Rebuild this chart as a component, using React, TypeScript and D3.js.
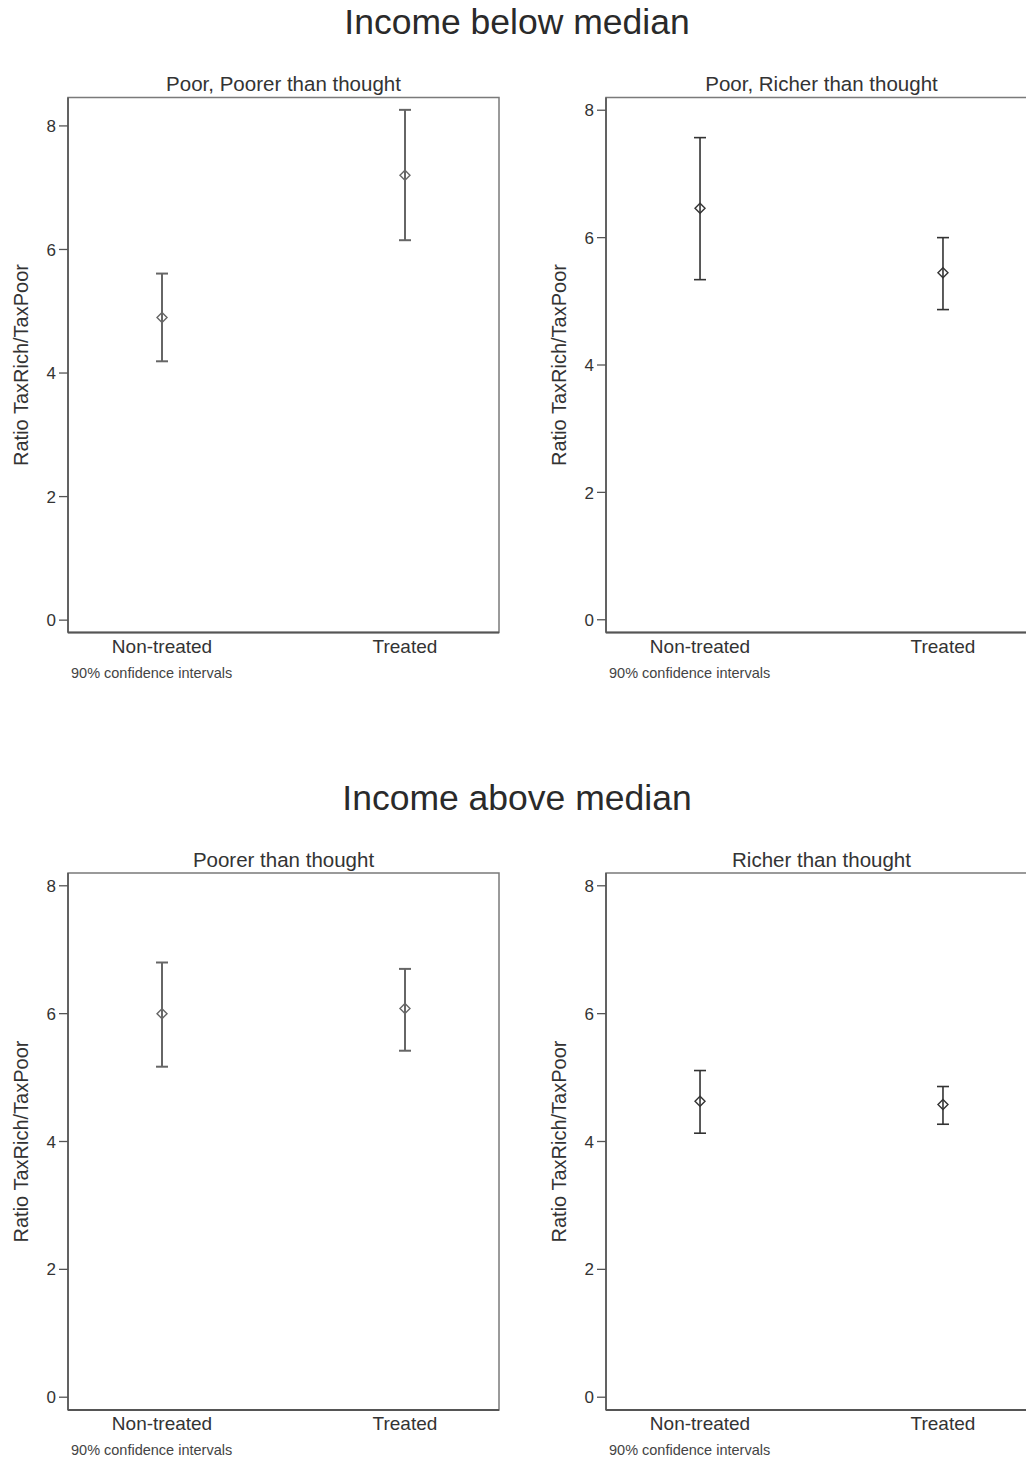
import React from "react";
import * as d3 from "d3";

// Group labels and panel titles
const groupTitles = ["Income below median", "Income above median"];
const panelTitles = [
  "Poor, Poorer than thought",
  "Poor, Richer than thought",
  "Poorer than thought",
  "Richer than thought",
];
const categories = ["Non-treated", "Treated"];
const yTicks = [0, 2, 4, 6, 8];

// Point estimates and 90% confidence bounds per panel (Non-treated, Treated)
const means = [
  [4.9, 7.2],
  [6.46, 5.45],
  [6.0, 6.08],
  [4.63, 4.58],
];
const lowers = [
  [4.19, 6.15],
  [5.34, 4.87],
  [5.17, 5.42],
  [4.13, 4.27],
];
const uppers = [
  [5.61, 8.26],
  [7.57, 6.0],
  [6.8, 6.7],
  [5.11, 4.86],
];

const W = 1026;
const H = 1458;
const FONT = "'Liberation Sans', Arial, Helvetica, sans-serif";

const panelW = 431;
const colX = [68, 606];
const rowY = [97.5, 873];
const rowH = [535, 537];

function Panel({ idx }: { idx: number }) {
  const col = idx % 2;
  const row = Math.floor(idx / 2);
  const x0 = colX[col];
  const y0 = rowY[row];
  const h = rowH[row];
  const x1 = x0 + panelW;
  const y1 = y0 + h;

  const top = Math.max(8, d3.max(uppers[idx]) as number) + 0.2;
  const y = d3.scaleLinear().domain([-0.2, top]).range([y1, y0]);
  const x = d3.scalePoint<string>().domain(categories).range([x0, x1]).padding(0.387);

  const barColor = col === 0 ? "#666" : "#333";
  const barW = col === 0 ? 2 : 1.6;
  const cap = 6;
  const dm = 5;

  return (
    <g>
      <text
        x={(x0 + x1) / 2}
        y={y0 - 6.5}
        textAnchor="middle"
        fontSize={20.5}
        fill="#333"
        fontFamily={FONT}
      >
        {panelTitles[idx]}
      </text>
      <rect x={x0} y={y0} width={panelW} height={h} fill="#fff" stroke="#7a7a7a" strokeWidth={1.5} />
      <line x1={x0} x2={x0} y1={y0} y2={y1} stroke="#555" strokeWidth={1.6} />
      <line x1={x0} x2={x1} y1={y1} y2={y1} stroke="#555" strokeWidth={1.8} />
      {yTicks.map((t) => (
        <g key={t}>
          <line x1={x0 - 9} x2={x0} y1={y(t)} y2={y(t)} stroke="#555" strokeWidth={1.3} />
          <text
            x={x0 - 12}
            y={y(t)}
            dy="0.36em"
            textAnchor="end"
            fontSize={17}
            fill="#333"
            fontFamily={FONT}
          >
            {t}
          </text>
        </g>
      ))}
      <text
        transform={`translate(${x0 - 40},${(y0 + y1) / 2}) rotate(-90)`}
        textAnchor="middle"
        fontSize={20}
        fill="#333"
        fontFamily={FONT}
      >
        Ratio TaxRich/TaxPoor
      </text>
      {categories.map((c, i) => {
        const cx = x(c) as number;
        const ym = y(means[idx][i]);
        const yl = y(lowers[idx][i]);
        const yu = y(uppers[idx][i]);
        return (
          <g key={c}>
            <text
              x={cx}
              y={y1 + 20}
              textAnchor="middle"
              fontSize={19}
              fill="#333"
              fontFamily={FONT}
            >
              {c}
            </text>
            <line x1={cx} x2={cx} y1={yu} y2={yl} stroke={barColor} strokeWidth={barW} />
            <line x1={cx - cap} x2={cx + cap} y1={yu} y2={yu} stroke={barColor} strokeWidth={barW} />
            <line x1={cx - cap} x2={cx + cap} y1={yl} y2={yl} stroke={barColor} strokeWidth={barW} />
            <path
              d={`M${cx},${ym - dm}L${cx + dm},${ym}L${cx},${ym + dm}L${cx - dm},${ym}Z`}
              fill="none"
              stroke={barColor}
              strokeWidth={1.4}
            />
          </g>
        );
      })}
      <text x={x0 + 3} y={y1 + 45} fontSize={14.5} fill="#444" fontFamily={FONT}>
        90% confidence intervals
      </text>
    </g>
  );
}

export default function App() {
  return (
    <svg
      width={W}
      height={H}
      style={{ position: "absolute", left: 0, top: 0, background: "#fff" }}
    >
      <rect x={0} y={0} width={W} height={H} fill="#fff" />
      {groupTitles.map((t, r) => (
        <text
          key={t}
          x={517}
          y={rowY[r] - 63.5}
          textAnchor="middle"
          fontSize={35.5}
          fill="#2a2a2a"
          fontFamily={FONT}
        >
          {t}
        </text>
      ))}
      {[0, 1, 2, 3].map((i) => (
        <Panel key={i} idx={i} />
      ))}
    </svg>
  );
}
